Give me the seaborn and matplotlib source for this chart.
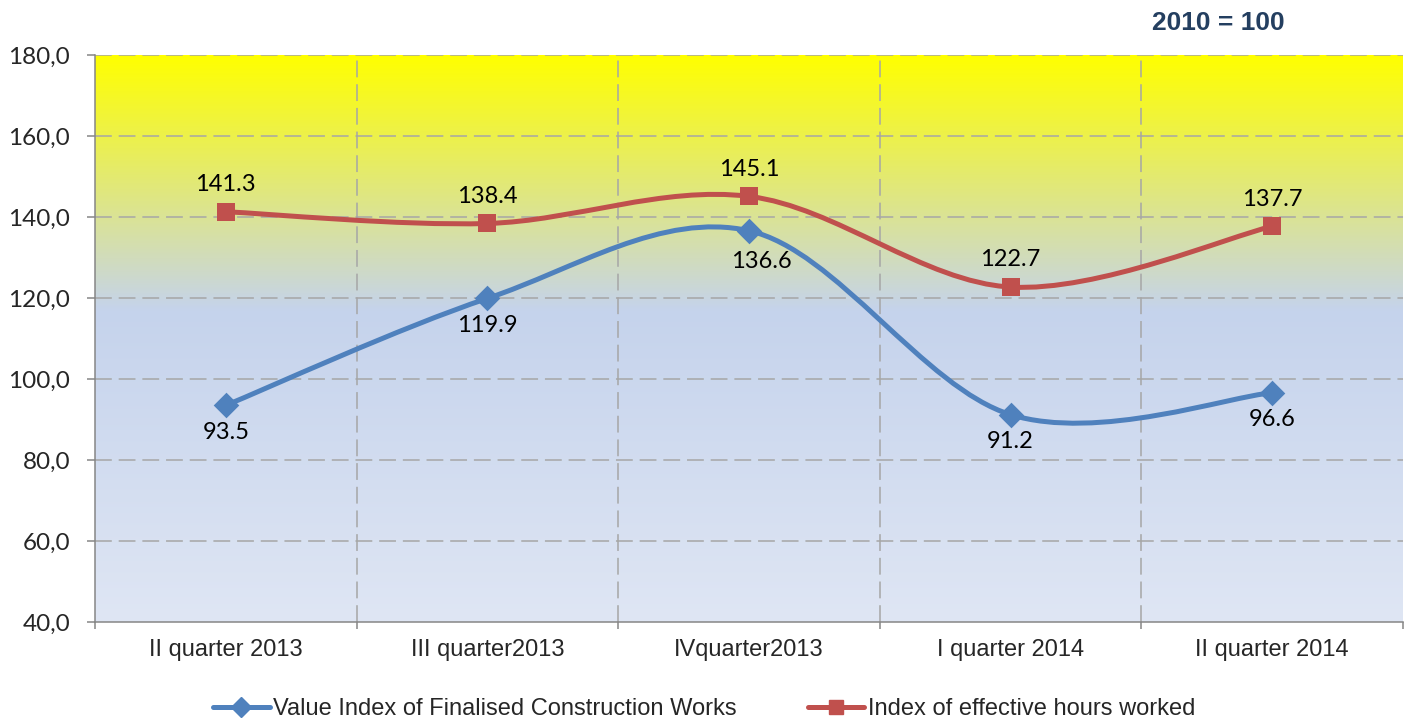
import numpy as np
import matplotlib
matplotlib.use("Agg")
import matplotlib.pyplot as plt
import seaborn as sns
from matplotlib.path import Path
from matplotlib.patches import PathPatch
from matplotlib.lines import Line2D
from matplotlib.colors import LinearSegmentedColormap

# Data
quarters = ["II quarter 2013", "III quarter2013", "IVquarter2013", "I quarter 2014", "II quarter 2014"]
value_index = [93.5, 119.9, 136.6, 91.2, 96.6]
hours_index = [141.3, 138.4, 145.1, 122.7, 137.7]
y_ticks = [40, 60, 80, 100, 120, 140, 160, 180]

blue = "#4F81BD"
red = "#C0504D"
grid_col = "#A6A6A6"
axis_col = "#868686"
label_font = ["Lato", "DejaVu Sans"]

sns.set_style("white")
plt.rcParams["font.family"] = ["Liberation Sans", "DejaVu Sans"]


def smooth_path(xs, ys, k=1 / 6):
    # Excel style smoothed line: cubic bezier through the points
    pts = np.column_stack([xs, ys]).astype(float)
    n = len(pts)
    verts = [pts[0]]
    codes = [Path.MOVETO]
    for i in range(n - 1):
        p0 = pts[i - 1] if i > 0 else pts[i]
        p1 = pts[i]
        p2 = pts[i + 1]
        p3 = pts[i + 2] if i + 2 < n else pts[i + 1]
        verts += [p1 + (p2 - p0) * k, p2 - (p3 - p1) * k, p2]
        codes += [Path.CURVE4] * 3
    return Path(verts, codes)


fig = plt.figure(figsize=(14.08, 7.2), dpi=100)
ax = fig.add_axes([95 / 1408, 1 - 622 / 720, (1403 - 95) / 1408, (622 - 55) / 720])

x = np.arange(len(quarters))

# gradient background
cmap = LinearSegmentedColormap.from_list(
    "bg", [(0.0, (223 / 255, 230 / 255, 244 / 255)),
           (0.55, (197 / 255, 211 / 255, 236 / 255)),
           (1.0, (1.0, 1.0, 0.0))])
grad = np.linspace(0, 1, 256).reshape(-1, 1)
ax.imshow(grad, cmap=cmap, origin="lower", aspect="auto",
          extent=(-0.5, len(quarters) - 0.5, 40, 180), zorder=0)

# smoothed lines
for vals, col in [(value_index, blue), (hours_index, red)]:
    ax.add_patch(PathPatch(smooth_path(x, vals), fill=False, edgecolor=col,
                           lw=3.6, capstyle="round", joinstyle="round", zorder=3))

sns.scatterplot(x=x, y=value_index, marker="D", s=170, color=blue,
                edgecolor=blue, linewidth=0, ax=ax, zorder=4, legend=False)
sns.scatterplot(x=x, y=hours_index, marker="s", s=150, color=red,
                edgecolor=red, linewidth=0, ax=ax, zorder=4, legend=False)

# data labels
for xi, v in zip(x, hours_index):
    ax.annotate(f"{v:.1f}", (xi, v), xytext=(0, 19.5), textcoords="offset points",
                ha="center", va="center", fontsize=17, family=label_font,
                color="black", zorder=5)
for xi, v in zip(x, value_index):
    dx, dy = (9, -22) if v == 136.6 else (0, -19.5)
    ax.annotate(f"{v:.1f}", (xi, v), xytext=(dx, dy), textcoords="offset points",
                ha="center", va="center", fontsize=17, family=label_font,
                color="black", zorder=5)

# axes
ax.set_xlim(-0.5, len(quarters) - 0.5)
ax.set_ylim(40, 180)
ax.set_yticks(y_ticks)
ax.set_yticklabels([f"{t:.1f}".replace(".", ",") for t in y_ticks],
                   fontsize=17.5, family=label_font)
ax.set_xticks(x)
ax.set_xticklabels(quarters, fontsize=17)
ax.set_xticks(np.arange(-0.5, len(quarters)), minor=True)
ax.tick_params(axis="x", which="major", length=0, pad=12)
ax.tick_params(axis="x", which="minor", length=5, width=1.1, color=axis_col,
               direction="out", bottom=True)
ax.tick_params(axis="y", which="major", length=6, width=1.1, color=axis_col,
               direction="out", pad=12, left=True)

ax.grid(False)
for t in y_ticks[1:]:
    ax.axhline(t, color=grid_col, lw=1.1, ls=(0, (11, 4.5)), zorder=1)
for b in np.arange(0.5, len(quarters) - 1):
    ax.axvline(b, color=grid_col, lw=1.1, ls=(0, (11, 4.5)), zorder=1)

for s in ["top", "right"]:
    ax.spines[s].set_visible(False)
for s in ["left", "bottom"]:
    ax.spines[s].set_color(axis_col)
    ax.spines[s].set_linewidth(1.1)
    ax.spines[s].set_zorder(2)

ax.set_xlabel("")
ax.set_ylabel("")

fig.text(1218 / 1408, 1 - 23 / 720, "2010 = 100", ha="center", va="center",
         fontsize=19, fontweight="bold", color="#243F60")

handles = [
    Line2D([], [], color=blue, lw=3.6, marker="D", markersize=10),
    Line2D([], [], color=red, lw=3.6, marker="s", markersize=10),
]
fig.legend(handles, ["Value Index of Finalised Construction Works", "Index of effective hours worked"],
           loc="center", bbox_to_anchor=(0.5, 11 / 720), ncol=2, frameon=False,
           fontsize=17, handlelength=2.4, handletextpad=0.15, columnspacing=3.0)

fig.savefig("out.png", dpi=100)
